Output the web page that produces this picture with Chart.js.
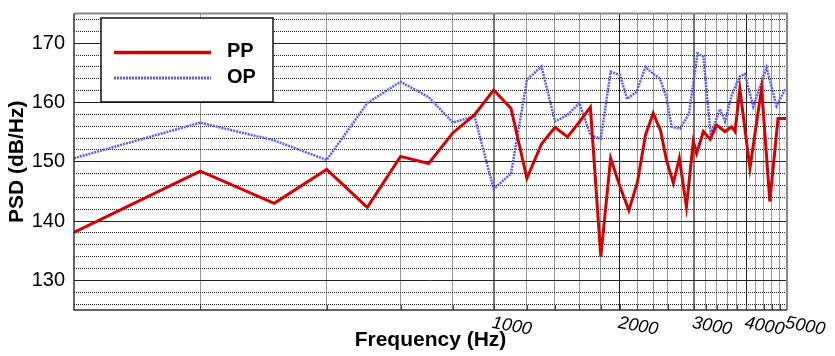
<!DOCTYPE html>
<html><head><meta charset="utf-8">
<script src="https://cdn.jsdelivr.net/npm/chart.js@4.4.1/dist/chart.umd.min.js"></script>
<style>html,body{margin:0;padding:0;background:#fff;}#wrap{width:835px;height:356px;}</style>
</head><body><div id="wrap"><canvas id="c" width="835" height="356"></canvas></div>
<script>
// ---- data ----
const ppFreq = [100,200,300,400,500,600,700,800,900,1000,1100,1200,1300,1400,1500,1600,1700,1800,1900,2000,2100,2200,2300,2400,2500,2580,2680,2770,2880,2990,3045,3160,3280,3400,3560,3690,3760,3860,4080,4350,4550,4760,5000];
const ppPSD  = [138.1,148.4,143.0,148.7,142.3,150.9,149.7,154.9,157.9,162.1,159.0,147.2,153.0,155.8,154.2,156.7,159.2,134.0,150.6,145.8,141.8,146.5,154.5,158.2,155.2,150.3,146.4,150.6,142.4,153.4,151.4,155.1,153.8,156.2,155.1,155.9,155.1,162.3,148.9,162.4,143.3,157.3,157.3];
const opFreq = [100,200,300,400,500,600,700,800,900,1000,1100,1200,1300,1400,1500,1600,1700,1800,1900,2000,2080,2190,2300,2390,2490,2580,2655,2780,2920,3060,3160,3290,3460,3560,3690,3860,3970,4155,4470,4720,4950,5000];
const opPSD  = [150.6,156.6,153.6,150.3,159.9,163.5,160.9,156.6,157.7,145.4,148.0,163.8,166.1,156.8,157.9,159.9,154.5,153.9,165.2,164.6,160.6,161.8,166.0,164.9,164.0,160.9,155.9,155.6,158.1,168.3,167.7,154.5,158.9,156.8,161.2,164.4,164.8,159.3,165.9,159.4,162.2,162.4];
const seriesNames = ['PP','OP'];
const xGridTicks = [200,400,600,800,1000,1200,1400,1600,1800,2000,2200,2400,2600,2800,3000,3200,3400,3600,3800,4000,4200,4400,4600,4800];
const xLabelTicks = [1000,2000,3000,4000,5000];
const yGridTicks = [126,128,130,132,134,136,138,140,142,144,146,148,150,152,154,156,158,160,162,164,166,168,170,172,174];
const yLabelTicks = [130,140,150,160,170];

const FONT = '"Liberation Sans", Arial, Helvetica, sans-serif';
const RED = '#d40000', BLUE = '#5a5aff';

const xMajor = v => v % 1000 === 0;
const yMajor = v => v % 10 === 0;

const deco = {
  id: 'deco',
  afterDatasetsDraw(chart) {
    const c = chart.ctx, a = chart.chartArea, xs = chart.scales.x;
    c.save();
    c.strokeStyle = '#444'; c.lineWidth = 1;
    xGridTicks.forEach(v => {
      const px = Math.round(xs.getPixelForValue(v)) + 0.5;
      c.beginPath(); c.moveTo(px, a.bottom); c.lineTo(px, a.bottom - 5); c.stroke();
    });
    c.strokeStyle = '#888'; c.lineWidth = 2;
    c.beginPath(); c.moveTo(a.left, a.top); c.lineTo(a.right, a.top); c.lineTo(a.right, a.bottom); c.stroke();
    c.strokeStyle = '#333'; c.lineWidth = 1.5;
    c.beginPath(); c.moveTo(a.left, a.top); c.lineTo(a.left, a.bottom); c.lineTo(a.right, a.bottom); c.stroke();
    c.restore();
  },
  afterDraw(chart) {
    const c = chart.ctx, xs = chart.scales.x;
    c.save();
    c.font = 'italic 18px ' + FONT; c.fillStyle = '#000';
    c.textAlign = 'left'; c.textBaseline = 'top';
    xLabelTicks.forEach(v => {
      const px = xs.getPixelForValue(v);
      c.save(); c.translate(px, 314); c.rotate(10 * Math.PI / 180);
      c.fillText(String(v), 0, 0); c.restore();
    });
    c.fillStyle = '#fff'; c.fillRect(101, 18, 172, 84);
    c.strokeStyle = '#111'; c.lineWidth = 1.5; c.strokeRect(101, 18, 172, 84);
    c.lineWidth = 3.5; c.strokeStyle = RED; c.setLineDash([]);
    c.beginPath(); c.moveTo(114, 52.5); c.lineTo(211, 52.5); c.stroke();
    c.lineWidth = 3; c.strokeStyle = BLUE; c.setLineDash([2, 1]);
    c.beginPath(); c.moveTo(114, 78); c.lineTo(211, 78); c.stroke();
    c.setLineDash([]);
    c.font = 'bold 20px ' + FONT; c.fillStyle = '#000'; c.textBaseline = 'middle';
    c.fillText(seriesNames[0], 227, 51.5);
    c.fillText(seriesNames[1], 227, 77);
    c.restore();
  }
};

new Chart(document.getElementById('c'), {
  type: 'line',
  data: {
    datasets: [
      { label: seriesNames[0], data: ppFreq.map((f, i) => ({ x: f, y: ppPSD[i] })),
        borderColor: RED, borderWidth: 3, pointRadius: 0, tension: 0, fill: false, order: 1 },
      { label: seriesNames[1], data: opFreq.map((f, i) => ({ x: f, y: opPSD[i] })),
        borderColor: BLUE, borderWidth: 2.5, borderDash: [2, 1], pointRadius: 0, tension: 0, fill: false, order: 2 }
    ]
  },
  options: {
    responsive: false, animation: false, devicePixelRatio: 1,
    layout: { padding: { left: 0, right: 48, top: 13.5, bottom: 0 } },
    plugins: { legend: { display: false }, tooltip: { enabled: false } },
    scales: {
      x: {
        type: 'logarithmic', min: 100, max: 5000,
        afterBuildTicks: s => { s.ticks = xGridTicks.map(v => ({ value: v })); },
        afterFit: s => { s.height = 46; s.paddingLeft = 0; s.paddingRight = 0; },
        ticks: { display: false },
        grid: {
          drawTicks: false,
          color: c => c.tick && xMajor(c.tick.value) ? ((c.tick.value / 1000) % 2 ? '#777' : '#222') : '#333',
          lineWidth: c => c.tick && xMajor(c.tick.value) && (c.tick.value / 1000) % 2 ? 2 : 1
        },
        border: { display: false, dash: c => c.tick && xMajor(c.tick.value) ? [] : [1, 1] },
        title: { display: true, text: 'Frequency (Hz)', color: '#000',
          font: { family: FONT, size: 21, weight: 'bold' }, padding: { top: 0, bottom: 3 } }
      },
      y: {
        min: 125, max: 175,
        afterBuildTicks: s => { s.ticks = yGridTicks.map(v => ({ value: v })); },
        afterFit: s => { s.width = 74; s.paddingTop = 0; s.paddingBottom = 0; },
        ticks: { autoSkip: false, padding: 9, color: '#000', font: { family: FONT, size: 20 },
          callback: v => yLabelTicks.includes(v) ? String(v) : '' },
        grid: {
          drawTicks: false,
          color: c => c.tick && yMajor(c.tick.value) ? '#222' : '#222',
          lineWidth: 1
        },
        border: { display: false, dash: c => c.tick && yMajor(c.tick.value) ? [] : [1, 1] },
        title: { display: true, text: 'PSD (dB/Hz)', color: '#000',
          font: { family: FONT, size: 21, weight: 'bold' }, padding: { top: 5, bottom: 0 } }
      }
    }
  },
  plugins: [deco]
});
</script>
</body></html>
